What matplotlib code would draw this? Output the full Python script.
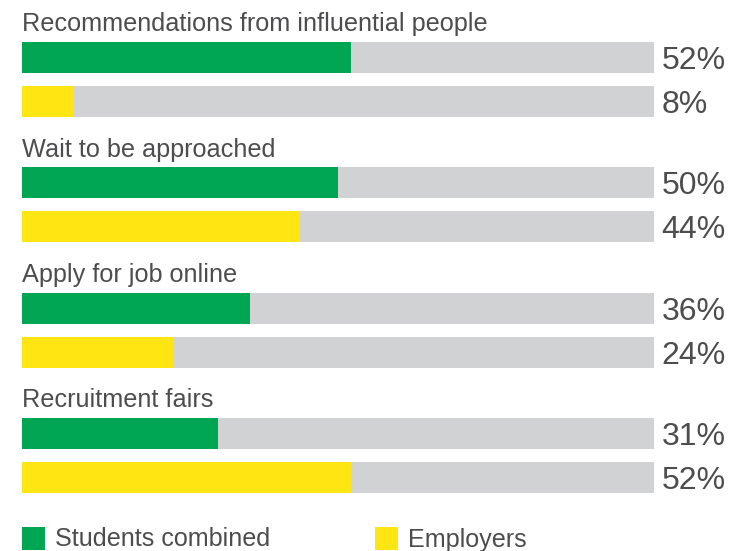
import matplotlib
matplotlib.use("Agg")
import matplotlib.pyplot as plt
from matplotlib.patches import Rectangle

# Data
categories = [
    "Recommendations from influential people",
    "Wait to be approached",
    "Apply for job online",
    "Recruitment fairs",
]
students = [52, 50, 36, 31]
employers = [8, 44, 24, 52]
series_names = ["Students combined", "Employers"]

GREEN = "#00A651"
YELLOW = "#FFE512"
GRAY = "#D1D2D4"
TEXT = "#4D4D4F"

plt.rcParams["font.family"] = ["Liberation Sans", "DejaVu Sans"]

W, H = 740, 551
fig = plt.figure(figsize=(W / 100, H / 100), dpi=100)

# Axes in pixel-row units vertically; x runs 0..100 percent across the track
left_px, track_px = 22, 632
ax = fig.add_axes([left_px / W, 0, track_px / W, 1])
ax.set_xlim(0, 100)
ax.set_ylim(H, 0)
ax.axis("off")

bar_h = 31
group_step = 125.3
first_green_center = 57.5
pair_gap = 44

for i, (cat, s, e) in enumerate(zip(categories, students, employers)):
    yg = first_green_center + i * group_step
    ye = yg + pair_gap
    for y, v, c in ((yg, s, GREEN), (ye, e, YELLOW)):
        ax.barh(y, 100, height=bar_h, left=0, color=GRAY, linewidth=0)
        ax.barh(y, v, height=bar_h, left=0, color=c, linewidth=0)
        ax.text(101.2, y, f"{v}%", ha="left", va="center_baseline",
                fontsize=23, color=TEXT, clip_on=False)
    ax.text(0, yg - bar_h / 2 - 10.5, cat, ha="left", va="baseline",
            fontsize=18.2, color=TEXT, clip_on=False)

# Legend
leg_y_top, leg_sz = 527, 23
for x_px, name, c in ((22, series_names[0], GREEN), (375, series_names[1], YELLOW)):
    fig.patches.append(Rectangle((x_px / W, 1 - (leg_y_top + leg_sz) / H),
                                 leg_sz / W, leg_sz / H,
                                 transform=fig.transFigure, color=c, linewidth=0))
    fig.text((x_px + 33) / W, 1 - 546.5 / H, name,
             ha="left", va="baseline", fontsize=18.1, color=TEXT)

fig.savefig("out.png", dpi=100, facecolor="white")
